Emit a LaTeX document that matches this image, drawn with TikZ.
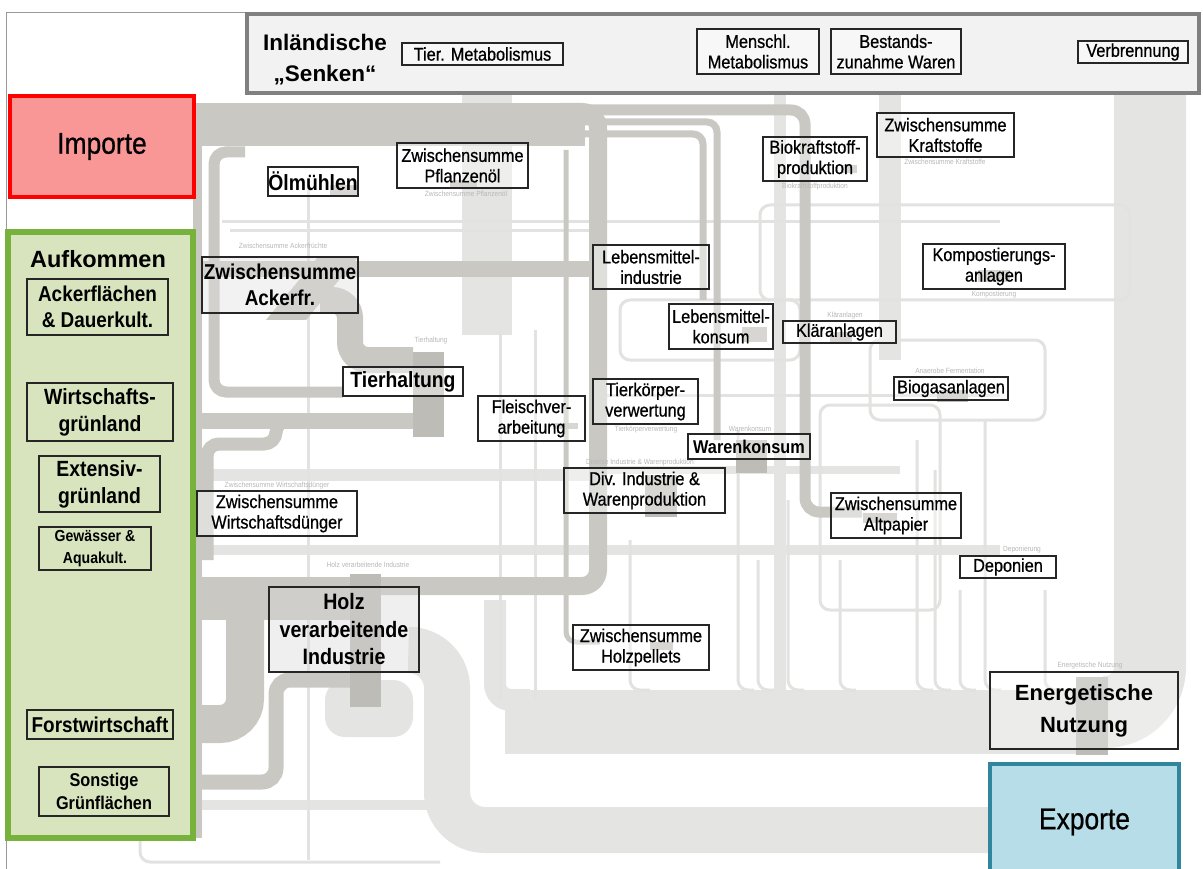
\documentclass[tikz,border=0pt]{standalone}
\usepackage{fontspec}
\setmainfont[FakeStretch=0.88]{Liberation Sans}
\newfontfamily\lblf[FakeStretch=0.88,FakeBold=0.7]{Liberation Sans}
\newfontfamily\widef{Liberation Sans}
\definecolor{midg}{HTML}{C9C8C3}
\definecolor{blkg}{HTML}{BDBCB7}
\definecolor{lightg}{HTML}{E4E4E2}
\definecolor{faintl}{HTML}{E2E2E0}
\definecolor{impfill}{HTML}{F99696}
\definecolor{aufill}{HTML}{D7E4BD}
\definecolor{augreen}{HTML}{77B33C}
\definecolor{expfill}{HTML}{B7DDE8}
\definecolor{expteal}{HTML}{31859C}
\newcommand\fs[2]{\fontsize{#1}{#2}\selectfont}
\tikzset{
  bx/.style={draw=black!85, line width=1.2pt, fill=white, fill opacity=0.4, text opacity=1,
    inner sep=0pt, align=center, font=\lblf\fs{18.5}{20.5}},
  bbx/.style={bx, font=\bfseries\fs{21.5}{26}},
  gbx/.style={draw=black!85, line width=1.2pt, inner sep=0pt, align=center, font=\bfseries\fs{21.5}{26}},
  faint/.style={text=black!28, font=\fs{7.5}{8}, inner sep=0pt},
  blk/.style={fill=blkg},
  thinl/.style={draw=faintl, line width=3pt, rounded corners=10pt}
}
\begin{document}
\begin{tikzpicture}[x=1pt,y=-1pt]
\useasboundingbox (0,0) rectangle (1203,869);
\fill[white] (0,0) rectangle (1203,869);
\draw[black!40, line width=1pt] (6,869) -- (6,13) -- (247,13);

% ---------- light background flows ----------
\draw[lightg, line width=72pt, rounded corners=45pt] (1150,95) -- (1150,712) -- (1108,712);
\draw[lightg, line width=64pt] (505,722) -- (1076,722);
\draw[lightg, line width=46pt, rounded corners=38pt] (419,650) -- (447,650) -- (447,830) -- (990,830);
\draw[lightg, line width=22pt, rounded corners=16pt] (495,600) -- (495,700) -- (530,700);
\draw[lightg, line width=50pt, rounded corners=20pt] (487,95) -- (487,335);
\draw[lightg, line width=12pt] (780,95) -- (780,690);
\draw[lightg, line width=22pt] (890,95) -- (890,360);
\fill[lightg, rounded corners=20pt] (325,680) rectangle (413,737);
\draw[lightg, line width=12pt] (193,475) -- (600,475);
\draw[lightg, line width=10pt] (193,550) -- (1000,550);
\draw[lightg, line width=8pt] (600,470) -- (900,470);
\draw[lightg, line width=10pt] (193,805) -- (440,805);
\draw[thinl] (222,222) -- (1000,222);
\draw[thinl] (230,231) -- (600,231);
\draw[thinl] (600,395) -- (1000,395);
\draw[thinl] (140,838) -- (140,862) -- (440,862);
\draw[thinl] (308,190) -- (308,860);
\draw[thinl] (500,330) -- (500,700);
\draw[thinl] (535,330) -- (535,700);
\draw[thinl] (630,540) -- (630,690) -- (650,690);
\foreach \xx/\yy in {738/430,758/560,788/500,840/560,917/440,935/470,960/590,985/420,1045/590}
  \draw[thinl] (\xx,\yy) -- (\xx,690) -- (\xx+16,690);
\draw[thinl] (760,205) rectangle (1130,300);
\draw[thinl] (870,340) rectangle (1045,420);
\draw[thinl] (620,300) rectangle (800,360);
\draw[thinl] (820,405) rectangle (940,610);

% ---------- mid grey flows ----------
\fill[midg] (193,103) rectangle (585,146);
\draw[midg, line width=18pt, rounded corners=16pt] (560,112) -- (598,112) -- (598,586) -- (193,586);
\draw[midg, line width=11pt, rounded corners=14pt] (580,110) -- (805,110) -- (805,512) -- (862,512);
\draw[midg, line width=16pt] (193,269) -- (593,269);
\draw[midg, line width=9pt] (197,140) -- (197,838);
\draw[midg, line width=11pt, rounded corners=12pt] (245,152) -- (214,152) -- (214,392) -- (343,392);
\fill[midg] (318,257) -- (358,257) -- (306,320) -- (266,320) -- cycle;
\draw[midg, line width=26pt, rounded corners=18pt] (320,300) -- (350,300) -- (350,360) -- (413,360);
\draw[midg, line width=16pt] (193,421) -- (413,421);
\draw[midg, line width=13pt, rounded corners=12pt] (300,421) -- (276,421) -- (276,444) -- (207,444) -- (207,560);
\draw[midg, line width=32pt] (193,604) -- (350,604);
\draw[midg, line width=38pt, rounded corners=25pt] (193,724) -- (245,724) -- (245,604);
\draw[midg, line width=15pt, rounded corners=14pt] (193,782) -- (276,782) -- (276,680) -- (350,680);
\draw[midg, line width=7pt, rounded corners=10pt] (585,122) -- (717,122) -- (717,440);
\draw[midg, line width=7pt, rounded corners=10pt] (585,134) -- (703,134) -- (703,300);
\draw[midg, line width=5pt, rounded corners=10pt] (566,150) -- (566,642) -- (600,642);

% process blocks
\fill[blk] (413,352) rectangle (444,437);
\fill[blk] (350,574) rectangle (381,707);
\fill[blk] (1076,677) rectangle (1108,755);
\fill[blk] (645,475) rectangle (677,517);
\fill[blk] (736,440) rectangle (767,473);
\fill[blk] (742,327) rectangle (767,342);
\fill[blk] (830,332) rectangle (852,343);
\fill[blk] (937,390) rectangle (968,402);
\fill[blk] (978,270) rectangle (1010,282);
\fill[blk] (843,165) rectangle (857,173);
\fill[blk] (553,423) rectangle (578,429);
\fill[blk] (330,185) rectangle (357,196);
\fill[blk] (450,180) rectangle (477,188);
\fill[blk] (863,513) rectangle (897,523);
\fill[blk] (650,642) rectangle (673,650);

% faint background labels
\node[faint] (f1) at (283,246) {Zwischensumme Ackerfrüchte};
\node[faint] (f2) at (431,341) {Tierhaltung};
\node[faint] (f3) at (277,486) {Zwischensumme Wirtschaftsdünger};
\node[faint] (f4) at (368,565) {Holz verarbeitende Industrie};
\node[faint] (f5) at (750,429) {Warenkonsum};
\node[faint] (f6) at (640,463) {Diverse Industrie \& Warenproduktion};
\node[faint] (f7) at (1090,666) {Energetische Nutzung};
\node[faint] (f8) at (1022,550) {Deponierung};
\node[faint] (f9) at (950,371) {Anaerobe Fermentation};
\node[faint] (f10) at (845,316) {Kläranlagen};
\node[faint] (f11) at (646,430) {Tierkörperverwertung};
\node[faint] (f12) at (466,194) {Zwischensumme Pflanzenöl};
\node[faint] (f13) at (815,187) {Biokraftstoffproduktion};
\node[faint] (f14) at (945,162) {Zwischensumme Kraftstoffe};
\node[faint] (f15) at (994,295) {Kompostierung};

% ---------- main frames ----------
\node[draw=black!50, line width=4pt, fill=black!5, minimum width=952pt, minimum height=79pt, inner sep=0pt] (senken) at (723,53.5) {};
\node[align=center, font=\widef\bfseries\fs{22.5}{31}, inner sep=0pt] (senkentitle) at (325,60) {Inländische\\„Senken“};
\node[bx, minimum width=161pt, minimum height=22pt] (tiermeta) at (482.5,54) {Tier. Metabolismus};
\node[bx, minimum width=122pt, minimum height=45pt] (menschl) at (758,51.5) {Menschl.\\Metabolismus};
\node[bx, minimum width=130pt, minimum height=45pt] (bestand) at (896,51.5) {Bestands-\\zunahme Waren};
\node[bx, minimum width=110pt, minimum height=22pt] (verbr) at (1133,52) {Verbrennung};

\node[draw=red, line width=4.5pt, fill=impfill, minimum width=184pt, minimum height=101pt, inner sep=0pt, font=\lblf\fs{30}{32}] (importe) at (102,146.5) {Importe};

\node[draw=augreen, line width=6pt, fill=aufill, minimum width=185pt, minimum height=606pt, inner sep=0pt] (aufk) at (100.5,535) {};
\node[font=\widef\bfseries\fs{23.5}{26}, inner sep=0pt] (auftitle) at (98,259) {Aufkommen};
\node[gbx, minimum width=141pt, minimum height=56pt] (acker) at (97.5,307) {Ackerflächen\\\& Dauerkult.};
\node[gbx, minimum width=146pt, minimum height=58pt, font=\bfseries\fs{22}{27}] (wgrl) at (100,412) {Wirtschafts-\\grünland};
\node[gbx, minimum width=121pt, minimum height=56pt, font=\bfseries\fs{22}{27}] (egrl) at (99.5,484) {Extensiv-\\grünland};
\node[gbx, minimum width=112pt, minimum height=43pt, font=\bfseries\fs{16}{22}] (gew) at (95,548.5) {Gewässer \&\\Aquakult.};
\node[gbx, minimum width=146pt, minimum height=29pt] (forst) at (100,724.5) {Forstwirtschaft};
\node[gbx, minimum width=130pt, minimum height=49pt, font=\bfseries\fs{18.5}{23}] (sonst) at (104,791.5) {Sonstige\\Grünflächen};

% ---------- process boxes ----------
\node[bbx, minimum width=90pt, minimum height=29pt, font=\bfseries\fs{22}{26}] (oelm) at (313,181.5) {Ölmühlen};
\node[bx, minimum width=131pt, minimum height=45pt] (pflanz) at (462.5,165.5) {Zwischensumme\\Pflanzenöl};
\node[bbx, minimum width=156pt, minimum height=56pt, fill=black!12] (ackerfr) at (280,285) {Zwischensumme\\Ackerfr.};
\node[bbx, minimum width=120pt, minimum height=29pt, font=\bfseries\fs{22}{26}] (tierh) at (403,381.5) {Tierhaltung};
\node[bx, minimum width=107pt, minimum height=45pt] (fleisch) at (531.5,418.5) {Fleischver-\\arbeitung};
\node[bx, minimum width=116pt, minimum height=44pt] (lmind) at (651,267) {Lebensmittel-\\industrie};
\node[bx, minimum width=104pt, minimum height=45pt] (lmkons) at (721,326.5) {Lebensmittel-\\konsum};
\node[bx, minimum width=113pt, minimum height=22pt] (klaer) at (839.5,332) {Kläranlagen};
\node[bx, minimum width=105pt, minimum height=45pt] (tierk) at (645.5,401.5) {Tierkörper-\\verwertung};
\node[bx, minimum width=122pt, minimum height=25pt, font=\bfseries\fs{18.5}{20.5}] (waren) at (749,446.5) {Warenkonsum};
\node[bx, minimum width=161pt, minimum height=45pt] (divind) at (644.5,490.5) {Div. Industrie \&\\Warenproduktion};
\node[bx, minimum width=160pt, minimum height=45pt] (wdueng) at (277,513.5) {Zwischensumme\\Wirtschaftsdünger};
\node[bbx, minimum width=150pt, minimum height=85pt, fill=black!15, font=\bfseries\fs{22.3}{27.5}] (holz) at (344,629.5) {Holz\\verarbeitende\\Industrie};
\node[bx, minimum width=136pt, minimum height=45pt] (pellets) at (641,647.5) {Zwischensumme\\Holzpellets};
\node[bx, minimum width=104pt, minimum height=44pt] (biokr) at (815,159) {Biokraftstoff-\\produktion};
\node[bx, minimum width=137pt, minimum height=44pt] (kraft) at (945.5,135) {Zwischensumme\\Kraftstoffe};
\node[bx, minimum width=142pt, minimum height=45pt] (kompost) at (994,266.5) {Kompostierungs-\\anlagen};
\node[bx, minimum width=114pt, minimum height=23pt] (biogas) at (951,388.5) {Biogasanlagen};
\node[bx, minimum width=130pt, minimum height=45pt] (altpap) at (896,515.5) {Zwischensumme\\Altpapier};
\node[bx, minimum width=96pt, minimum height=22pt] (depon) at (1008,567) {Deponien};
\node[bx, minimum width=188pt, minimum height=77pt, fill opacity=0.3, font=\widef\bfseries\fs{22}{32}] (energ) at (1084,710.5) {Energetische\\Nutzung};

\node[draw=expteal, line width=4pt, fill=expfill, minimum width=189pt, minimum height=112pt, inner sep=0pt] (exporte) at (1084.5,820) {};
\node[font=\lblf\fs{30}{32}, inner sep=0pt] (exptext) at (1084.5,822) {Exporte};
\end{tikzpicture}
\end{document}
